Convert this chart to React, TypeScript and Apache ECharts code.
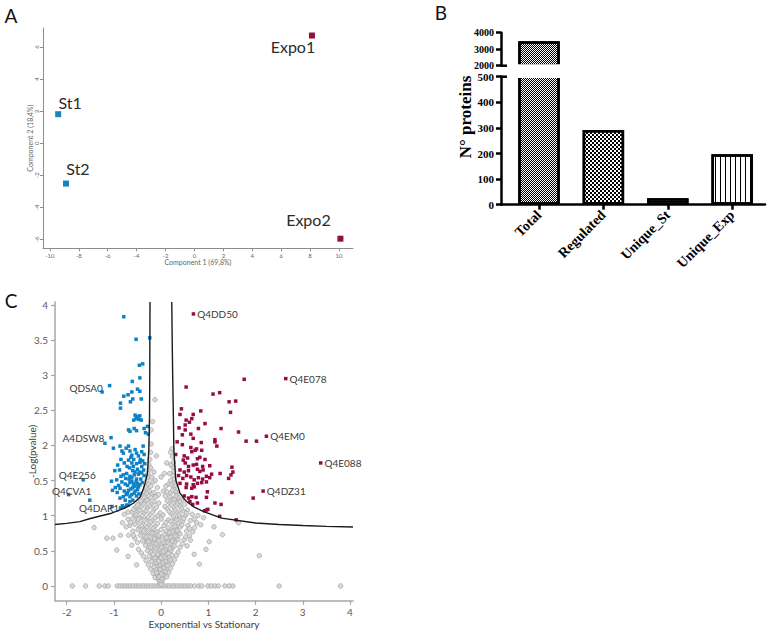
import React, { useEffect, useRef } from 'react';
import * as echarts from 'echarts';

// ---------------- Panel A: PCA ----------------
const pcaNames = ['St1', 'St2', 'Expo1', 'Expo2'];
const pcaX = [-9.43, -8.89, 8.13, 10.1];
const pcaY = [1.81, -2.52, 6.72, -5.96];
const pcaGroup = ['st', 'st', 'exp', 'exp'];
const pcaTicksX = [-10, -8, -6, -4, -2, 0, 2, 4, 6, 8, 10];
const pcaTicksY = [-6, -4, -2, 0, 2, 4, 6];

// ---------------- Panel B: counts ----------------
const barCategories = ['Total', 'Regulated', 'Unique_St', 'Unique_Exp'];
const barCounts = [3480, 292, 25, 197];
const barPositions = [0, 1, 2, 3];

// ---------------- Panel C: volcano ----------------
const volTicksX = [-2, -1, 0, 1, 2, 3, 4];
const volTicksY = [0, 0.5, 1, 1.5, 2, 2.5, 3, 3.5, 4];
const volTickLabelsY = ['0', '0.5', '1', '0.5', '2', '2.5', '3', '3.5', '4'];

const curveLeft = [
  [-0.235, 4.04], [-0.24, 3.0], [-0.245, 2.41], [-0.26, 1.94], [-0.29, 1.6], [-0.36, 1.41],
  [-0.44, 1.27], [-0.58, 1.18], [-0.76, 1.11], [-1.05, 1.035], [-1.5, 0.96], [-1.72, 0.915],
  [-2.0, 0.89], [-2.247, 0.875],
];
const curveRight = [
  [0.226, 4.04], [0.235, 3.5], [0.245, 3.0], [0.26, 2.4], [0.27, 1.94], [0.31, 1.51], [0.4, 1.32],
  [0.51, 1.22], [0.68, 1.13], [0.89, 1.06], [1.28, 0.965], [2.0, 0.895], [2.5, 0.875], [3.0, 0.86],
  [3.5, 0.848], [4.064, 0.838],
];

const bluePoints = [
  [-0.79, 3.83], [-0.53, 3.51], [-0.24, 3.53], [-0.39, 3.16], [-0.46, 3.14], [-0.61, 2.91], [-0.45, 2.96],
  [-0.5, 2.8], [-0.45, 2.77], [-0.62, 2.76], [-1.25, 2.76], [-0.79, 2.7], [-0.86, 2.6], [-0.86, 2.53],
  [-0.6, 2.66], [-0.65, 2.62], [-0.7, 2.72], [-0.42, 2.66],
  [-0.55, 2.43], [-0.5, 2.41], [-0.45, 2.42], [-0.53, 2.38], [-0.58, 2.36], [-0.47, 2.37], [-0.42, 2.36],
  [-0.57, 2.24], [-0.52, 2.21], [-0.69, 2.22], [-0.66, 2.2], [-0.36, 2.24], [-0.33, 2.18], [-0.29, 2.27],
  [-0.27, 2.16],
  [-1.19, 2.03], [-1.01, 1.96], [-0.87, 1.99], [-0.83, 1.92], [-0.8, 1.89], [-0.74, 1.96], [-0.69, 1.99],
  [-0.66, 1.92], [-0.62, 1.86], [-0.55, 1.94], [-0.52, 1.89], [-0.48, 1.85], [-0.41, 1.91], [-0.38, 1.99],
  [-0.36, 1.87],
  [-0.69, 1.79], [-0.62, 1.75], [-0.59, 1.7], [-0.52, 1.74], [-0.45, 1.76], [-0.41, 1.7], [-0.37, 1.65],
  [-0.98, 1.64], [-0.88, 1.65], [-0.8, 1.58], [-0.73, 1.6], [-0.66, 1.56], [-0.62, 1.54], [-0.57, 1.58],
  [-0.52, 1.52], [-0.48, 1.59], [-0.41, 1.61], [-0.36, 1.57],
  [-1.05, 1.49], [-0.94, 1.51], [-0.83, 1.48], [-0.76, 1.45], [-0.71, 1.43], [-0.66, 1.47], [-0.6, 1.4],
  [-0.55, 1.42], [-0.5, 1.37], [-0.45, 1.44], [-0.4, 1.47],
  [-1.03, 1.36], [-0.93, 1.33], [-0.87, 1.39], [-0.78, 1.35], [-0.71, 1.32], [-0.66, 1.27], [-0.62, 1.3],
  [-0.57, 1.32], [-0.52, 1.28], [-0.47, 1.31],
  [-0.87, 1.25], [-0.76, 1.22], [-0.66, 1.2], [-0.6, 1.22], [-0.82, 1.14], [-0.73, 1.15], [-0.7, 1.15],
  [-1.51, 1.22], [-0.8, 1.12], [-0.86, 1.11],
  [-0.64, 1.83], [-0.58, 1.8], [-0.5, 1.66], [-0.46, 1.62], [-0.43, 1.52], [-0.55, 1.62], [-0.6, 1.64],
  [-0.67, 1.68], [-0.72, 1.7], [-0.78, 1.75], [-0.85, 1.8], [-0.92, 1.72], [-0.44, 1.8], [-0.39, 1.78],
  [-0.35, 1.74], [-0.53, 1.48], [-0.58, 1.45], [-0.64, 1.38], [-0.69, 1.36], [-0.74, 1.3], [-0.8, 1.27],
  [-0.9, 1.43], [-0.97, 1.4], [-0.55, 1.35], [-0.5, 1.46], [-0.48, 1.41], [-0.62, 1.49], [-0.68, 1.52],
  [-0.75, 1.53], [-0.85, 1.56],
];

const redPoints = [
  [1.76, 2.94], [0.53, 2.83], [1.1, 2.73], [1.24, 2.75], [1.44, 2.62], [1.58, 2.63], [1.47, 2.47],
  [0.43, 2.52], [0.4, 2.44], [0.68, 2.44], [0.84, 2.49], [0.53, 2.36], [0.6, 2.33], [0.51, 2.29],
  [0.65, 2.38], [0.93, 2.31], [0.38, 2.25], [0.79, 2.24], [1.27, 2.24], [1.64, 2.19], [0.51, 2.22],
  [0.63, 2.16], [0.45, 2.15], [0.68, 2.1], [1.14, 2.08], [1.14, 2.05], [1.18, 1.99], [1.8, 2.06],
  [2.02, 2.06], [0.34, 2.05], [0.45, 2.01], [0.85, 2.04], [0.63, 1.97], [0.72, 1.93], [0.75, 1.95],
  [0.65, 1.91], [0.31, 1.87], [0.86, 1.93],
  [0.49, 1.85], [0.56, 1.82], [0.77, 1.81], [0.82, 1.83], [0.93, 1.8],
  [0.47, 1.79], [0.51, 1.75], [0.58, 1.7], [0.68, 1.72], [0.75, 1.73], [0.88, 1.7], [1.03, 1.71],
  [0.4, 1.65], [0.49, 1.62], [0.58, 1.64], [0.77, 1.66], [0.82, 1.63], [0.89, 1.65],
  [1.5, 1.69], [1.52, 1.62], [1.48, 1.58], [1.25, 1.6], [1.07, 1.59], [1.03, 1.54], [0.96, 1.56],
  [0.37, 1.57], [0.46, 1.53], [0.54, 1.57], [0.63, 1.55], [0.7, 1.51], [0.79, 1.54], [0.88, 1.52],
  [1.43, 1.53],
  [0.4, 1.46], [0.54, 1.45], [0.68, 1.44], [0.77, 1.46], [0.86, 1.47], [0.96, 1.48],
  [0.53, 1.4], [0.65, 1.39], [0.7, 1.41], [1.5, 1.33], [0.98, 1.34], [0.96, 1.26], [1.95, 1.25],
  [0.49, 1.28], [0.58, 1.25], [0.65, 1.27], [0.74, 1.26],
  [0.61, 1.2], [0.67, 1.16], [0.77, 1.18], [1.14, 1.18], [1.27, 1.16],
  [0.92, 1.07], [0.96, 1.08], [0.99, 1.09], [1.24, 0.99], [1.59, 0.94],
];

const grayPoints = [
  [-1.88, 0], [-1.6, 0], [-1.31, 0], [-1.19, 0], [-1.12, 0], [-0.93, 0], [-0.87, 0], [-0.81, 0], [-0.76, 0],
  [-0.7, 0], [-0.65, 0], [-0.59, 0], [-0.53, 0], [-0.48, 0], [-0.42, 0], [-0.37, 0], [-0.31, 0], [-0.26, 0],
  [-0.2, 0], [-0.15, 0], [-0.09, 0], [-0.04, 0], [0.02, 0], [0.07, 0], [0.13, 0], [0.18, 0], [0.24, 0],
  [0.29, 0], [0.35, 0], [0.4, 0], [0.46, 0], [0.51, 0], [0.57, 0], [0.63, 0], [0.71, 0], [0.8, 0], [0.86, 0],
  [0.99, 0], [1.06, 0], [1.14, 0], [1.21, 0], [1.35, 0], [1.44, 0], [1.52, 0], [2.5, 0], [3.8, 0],
  [-0.03, 0.04], [0.02, 0.06], [-0.06, 0.09], [0.05, 0.11], [0.0, 0.14], [-0.08, 0.16], [0.08, 0.18],
  [-0.03, 0.2], [0.04, 0.22], [-0.11, 0.23], [0.11, 0.25], [0.01, 0.27], [-0.06, 0.29], [0.07, 0.31],
  [-0.14, 0.32], [0.14, 0.34], [-0.01, 0.36], [0.04, 0.38], [-0.18, 0.39], [0.17, 0.41], [-0.09, 0.42],
  [0.1, 0.44], [-0.04, 0.46], [0.02, 0.47], [-0.22, 0.48], [0.21, 0.5], [-0.14, 0.51], [0.13, 0.52],
  [-0.26, 0.54], [0.25, 0.55], [-0.07, 0.56], [0.06, 0.57], [-0.19, 0.58], [0.17, 0.6], [-0.31, 0.61],
  [0.29, 0.62], [-0.11, 0.63], [0.09, 0.64], [-0.24, 0.65], [0.22, 0.66], [-0.36, 0.67], [0.33, 0.68],
  [-0.03, 0.69], [0.03, 0.7], [-0.16, 0.71], [0.15, 0.72], [-0.29, 0.73], [0.27, 0.74], [-0.41, 0.75],
  [0.37, 0.76], [-0.09, 0.77], [0.11, 0.78], [-0.21, 0.79], [0.2, 0.8], [-0.34, 0.81], [0.31, 0.82],
  [-0.46, 0.83], [0.41, 0.84], [-0.13, 0.85], [0.06, 0.86], [-0.26, 0.87], [0.25, 0.88], [-0.39, 0.89],
  [0.36, 0.9], [-0.51, 0.91], [0.46, 0.92], [-0.18, 0.93], [0.15, 0.94], [-0.31, 0.95], [0.29, 0.96],
  [-0.44, 0.97], [0.4, 0.98], [-0.56, 0.99], [0.51, 1.0], [-0.07, 1.0], [0.04, 1.01], [-0.23, 1.02],
  [0.21, 1.03], [-0.36, 1.04], [0.33, 1.05], [-0.49, 1.06], [0.45, 1.07], [-0.62, 1.05], [0.56, 1.08],
  [-0.15, 1.09], [0.13, 1.1], [-0.29, 1.11], [0.27, 1.12], [-0.42, 1.13], [0.39, 1.14], [-0.54, 1.12],
  [0.5, 1.16], [-0.2, 1.17], [0.18, 1.18], [-0.34, 1.19], [0.31, 1.2], [-0.47, 1.2], [0.43, 1.22],
  [-0.27, 1.23], [0.24, 1.24], [-0.39, 1.25], [0.36, 1.26], [-0.11, 1.27], [0.09, 1.28],
  [-0.33, 1.3], [0.33, 1.31], [-0.37, 1.33], [0.3, 1.35], [-0.29, 1.37], [0.27, 1.39], [-0.33, 1.41],
  [0.29, 1.43], [-0.27, 1.45], [0.26, 1.47], [-0.3, 1.5], [0.28, 1.52], [-0.26, 1.55], [0.25, 1.57],
  [-0.28, 1.6], [0.27, 1.63], [-0.25, 1.66], [0.25, 1.69], [-0.26, 1.73], [0.26, 1.76], [-0.24, 1.8],
  [0.24, 1.84], [-0.22, 1.9], [0.23, 1.95], [-0.21, 2.02], [0.12, 1.75], [-0.21, 2.22], [-0.18, 2.34],
  [-0.13, 2.65], [0.05, 1.35], [-0.08, 1.4], [0.16, 1.45], [-0.17, 1.48], [0.18, 1.6], [-0.15, 1.62],
  [0.0, 1.55], [-0.2, 1.3], [0.2, 1.32],
  [-0.7, 0.95], [-0.66, 0.86], [-0.6, 0.78], [-0.69, 0.72], [-0.56, 0.68], [-0.5, 0.62], [-0.62, 0.58],
  [-0.48, 0.52], [-0.42, 0.47], [-0.37, 0.42], [-0.32, 0.36], [-0.27, 0.3], [-0.22, 0.24], [-0.17, 0.18],
  [-0.13, 0.12],
  [0.66, 1.02], [0.62, 0.93], [0.57, 0.86], [0.54, 0.78], [0.6, 0.71], [0.49, 0.66], [0.45, 0.6],
  [0.4, 0.55], [0.36, 0.48], [0.32, 0.43], [0.28, 0.37], [0.24, 0.31], [0.2, 0.25], [0.16, 0.19],
  [0.12, 0.13],
  [0.78, 1.0], [0.9, 0.97], [0.75, 0.9], [0.71, 0.83], [0.67, 0.77], [0.84, 0.87], [0.62, 0.65],
  [0.55, 0.57], [-0.78, 1.02], [-0.74, 0.84], [-0.82, 0.9],
  [-1.42, 0.83], [-1.15, 0.68], [-1.02, 0.68], [-0.94, 0.51], [0.81, 0.31], [2.08, 0.43], [1.3, 0.73],
  [1.64, 0.9], [1.02, 0.63], [-0.86, 0.72], [1.12, 0.84], [-0.7, 0.42], [0.7, 0.45], [-0.52, 0.3],
  [0.95, 0.52],
  [-0.05, 0.12], [0.03, 0.15], [-0.1, 0.19], [0.09, 0.21], [-0.02, 0.24], [0.06, 0.26], [-0.15, 0.27],
  [0.13, 0.29], [-0.09, 0.33], [0.1, 0.35], [-0.2, 0.35], [0.19, 0.37], [-0.05, 0.38], [-0.13, 0.4],
  [0.07, 0.41], [-0.25, 0.42], [0.23, 0.44], [-0.17, 0.45], [0.15, 0.46], [-0.01, 0.49], [-0.29, 0.5],
  [0.09, 0.51], [-0.1, 0.53], [0.19, 0.53], [-0.22, 0.55], [0.28, 0.57], [-0.33, 0.58], [0.02, 0.59],
  [-0.15, 0.61], [0.13, 0.62], [-0.27, 0.63], [0.24, 0.64], [-0.39, 0.64], [0.36, 0.66], [-0.07, 0.66],
  [-0.2, 0.68], [0.19, 0.69], [-0.32, 0.7], [0.3, 0.71], [-0.44, 0.72], [0.07, 0.73], [-0.12, 0.74],
  [0.4, 0.74], [-0.25, 0.76], [0.24, 0.77], [-0.37, 0.78], [0.34, 0.79], [-0.49, 0.8], [0.0, 0.8],
  [-0.17, 0.82], [0.16, 0.83], [-0.3, 0.84], [0.29, 0.85], [-0.42, 0.86], [0.44, 0.87], [-0.55, 0.88],
  [-0.08, 0.89], [0.1, 0.9], [-0.22, 0.91], [0.21, 0.92], [-0.35, 0.93], [0.33, 0.94], [-0.48, 0.95],
  [0.48, 0.96], [-0.6, 0.96], [-0.13, 0.97], [0.0, 0.95], [-0.27, 0.98], [0.26, 0.99], [-0.4, 1.0],
  [0.38, 1.01], [-0.53, 1.01], [0.54, 1.03], [-0.02, 1.04], [-0.18, 1.05], [0.17, 1.06], [-0.32, 1.07],
  [0.3, 1.08], [-0.45, 1.08], [0.43, 1.1], [-0.58, 1.09], [-0.1, 1.12], [0.08, 1.13], [-0.24, 1.14],
  [0.22, 1.15], [-0.37, 1.16], [0.35, 1.17], [-0.5, 1.15], [-0.05, 1.18], [-0.15, 1.2], [0.13, 1.21],
  [-0.3, 1.22], [0.28, 1.23], [-0.43, 1.21], [0.4, 1.2], [-0.22, 1.26], [0.19, 1.27], [-0.35, 1.27],
  [0.32, 1.28], [-0.05, 1.3], [-0.15, 1.33], [0.12, 1.34], [-0.25, 1.35], [0.24, 1.36], [-0.31, 1.32],
  [0.1, 1.42], [-0.22, 1.42], [0.22, 1.44], [-0.12, 1.5], [0.2, 1.5], [-0.2, 1.55], [0.07, 1.6],
  [-0.22, 1.68], [0.21, 1.72], [-0.1, 1.85], [0.2, 1.9], [-0.7, 1.05], [-0.65, 0.9], [0.7, 0.95],
  [0.6, 0.82], [-0.58, 0.72], [0.52, 0.7],
  [0.0, 0.02], [-0.01, 0.08], [0.02, 0.1], [-0.04, 0.13], [0.01, 0.17], [-0.02, 0.3], [0.03, 0.33],
  [-0.05, 0.35], [0.0, 0.4], [-0.07, 0.45], [0.05, 0.49], [-0.03, 0.52], [0.01, 0.55], [-0.1, 0.6],
  [0.06, 0.62], [-0.05, 0.64], [-0.14, 0.67], [0.12, 0.69], [-0.06, 0.72], [-0.19, 0.75], [0.17, 0.76],
];

const annotNames = ['Q4DD50', 'Q4E078', 'Q4EM0', 'Q4E088', 'Q4DZ31', 'QDSA0', 'A4DSW8', 'Q4E256', 'Q4CVA1', 'Q4DAR1'];
const annotPoints = [
  [0.685, 3.87], [2.64, 2.95], [2.23, 2.13], [3.38, 1.75], [2.16, 1.35],
  [-1.09, 2.85], [-1.06, 2.11], [-1.65, 1.51], [-1.96, 1.3], [-1.04, 1.13],
];
const annotGroup = ['up', 'up', 'up', 'up', 'up', 'down', 'down', 'down', 'down', 'down'];

// ---------------- styles ----------------
const SANS = 'Lato, "Noto Sans", sans-serif';
const SERIF = '"Liberation Serif", "Times New Roman", serif';
const BLUE = '#0f82c5';
const RED = '#970d43';
const PCA_BLUE = '#1884c2';
const PCA_RED = '#93103e';

const pcaLabelOffset: Record<string, number[]> = {
  St1: [12, -12],
  St2: [12, -15],
  Expo1: [-19, 11],
  Expo2: [-32, -19],
};

const annotLabel: Record<string, any> = {
  Q4DD50: { position: 'right', distance: 2 },
  Q4E078: { position: 'right', distance: 2 },
  Q4EM0: { position: 'right', distance: 2 },
  Q4E088: { position: 'right', distance: 2 },
  Q4DZ31: { position: 'right', distance: 2 },
  QDSA0: { position: 'left', distance: 5, offset: [0, 2] },
  A4DSW8: { position: 'left', distance: 5 },
  Q4E256: { position: 'inside', offset: [-6, -5] },
  Q4CVA1: { position: 'inside', offset: [3, -4] },
  Q4DAR1: { position: 'inside', offset: [-13, 1] },
};

const decalBase = { symbolSize: 1, symbolKeepAspect: false, color: '#000', backgroundColor: '#fff', rotation: 0 };
const decals: any[] = [
  { ...decalBase, symbol: [['rect', 'rect'], ['rect', 'rect']], dashArrayX: [[1, 1], [0, 1, 1, 0]], dashArrayY: [1, 0] },
  { ...decalBase, symbol: 'rect', dashArrayX: [[2, 2], [0, 2, 2, 0]], dashArrayY: [2, 0] },
  { ...decalBase, symbol: 'rect', dashArrayX: [4, 0], dashArrayY: [1, 2] },
  { ...decalBase, symbol: 'rect', dashArrayX: [1, 4], dashArrayY: [4, 0] },
];

const gA = { left: 43, top: 28, width: 310, height: 220.3 };
const gBHigh = { left: 501, top: 32.7, width: 264, height: 33 };
const gBLow = { left: 501, top: 76.7, width: 264, height: 128 };
const gC = { left: 55, top: 302, width: 298, height: 298.7 };

function letter(text: string, x: number, y: number) {
  return {
    type: 'text', x, y, z: 50,
    style: {
      text, fill: '#111', fontSize: 19, fontFamily: SANS,
      align: 'center', verticalAlign: 'middle', textAlign: 'center', textVerticalAlign: 'middle',
    },
  };
}

export default function App() {
  const ref = useRef<HTMLDivElement>(null);

  useEffect(() => {
    const chart = echarts.init(ref.current!, null, { renderer: 'svg' });

    const grayAxis = '#8c8c8c';
    const volAxis = '#a6a6a6';

    const option: any = {
      animation: false,
      backgroundColor: '#fff',
      grid: [
        { ...gA, outerBoundsMode: 'none' },
        { ...gBHigh, outerBoundsMode: 'none' },
        { ...gBLow, outerBoundsMode: 'none' },
        { ...gC, outerBoundsMode: 'none' },
      ],
      xAxis: [
        {
          type: 'value', gridIndex: 0, min: -10.48, max: 10.97,
          axisLine: { onZero: false, lineStyle: { color: grayAxis, width: 1 } },
          axisTick: { show: true, customValues: pcaTicksX, length: 3, lineStyle: { color: grayAxis } },
          axisLabel: { customValues: pcaTicksX, fontSize: 6, color: '#666', margin: 4, fontFamily: SANS },
          splitLine: { show: false },
          name: 'Component 1 (69,8%)', nameLocation: 'middle', nameGap: 10, nameMoveOverlap: false,
          nameTextStyle: { fontSize: 7, color: '#666', fontFamily: SANS },
        },
        { type: 'value', gridIndex: 1, min: -0.59, max: 3.51, show: false },
        {
          type: 'value', gridIndex: 2, min: -0.59, max: 3.51,
          axisLine: { onZero: false, lineStyle: { color: '#000', width: 2.5 } },
          axisTick: { show: true, customValues: barPositions, length: 5, lineStyle: { color: '#000', width: 2.5 } },
          axisLabel: {
            customValues: barPositions, rotate: 45, margin: 8, color: '#000',
            fontFamily: SERIF, fontWeight: 'bold', fontSize: 14,
            formatter: (v: number) => barCategories[Math.round(v)] ?? '',
          },
          splitLine: { show: false },
        },
        {
          type: 'value', gridIndex: 3, min: -2.247, max: 4.064,
          axisLine: { onZero: false, lineStyle: { color: volAxis, width: 1.5 } },
          axisTick: { show: true, customValues: volTicksX, length: 4, lineStyle: { color: volAxis, width: 1.2 } },
          axisLabel: { customValues: volTicksX, fontSize: 10, color: '#595959', margin: 6, fontFamily: SANS },
          splitLine: { show: false },
          name: 'Exponential vs Stationary', nameLocation: 'middle', nameGap: 18, nameMoveOverlap: false,
          nameTextStyle: { fontSize: 10, color: '#404040', fontFamily: SANS },
        },
      ],
      yAxis: [
        {
          type: 'value', gridIndex: 0, min: -6.56, max: 7.19,
          axisLine: { show: true, onZero: false, lineStyle: { color: grayAxis, width: 1 } },
          axisTick: { show: true, customValues: pcaTicksY, length: 3, lineStyle: { color: grayAxis } },
          axisLabel: { customValues: pcaTicksY, fontSize: 6, color: '#666', margin: 4, rotate: 90, fontFamily: SANS },
          splitLine: { show: false },
          name: 'Component 2 (18,4%)', nameLocation: 'middle', nameGap: 10, nameMoveOverlap: false,
          nameTextStyle: { fontSize: 7, color: '#666', fontFamily: SANS },
        },
        {
          type: 'value', gridIndex: 1, min: 2000, max: 4000, interval: 1000,
          axisLine: { show: true, onZero: false, lineStyle: { color: '#000', width: 2.5 } },
          axisTick: { show: true, length: 5, lineStyle: { color: '#000', width: 2.5 } },
          axisLabel: {
            fontSize: 10, color: '#000', fontWeight: 'bold', fontFamily: SERIF, margin: 7,
            formatter: (v: number) => String(v),
          },
          splitLine: { show: false },
        },
        {
          type: 'value', gridIndex: 2, min: 0, max: 500, interval: 100,
          axisLine: { show: true, onZero: false, lineStyle: { color: '#000', width: 2.5 } },
          axisTick: { show: true, length: 5, lineStyle: { color: '#000', width: 2.5 } },
          axisLabel: {
            fontSize: 11, color: '#000', fontWeight: 'bold', fontFamily: SERIF, margin: 7,
            formatter: (v: number) => String(v),
          },
          splitLine: { show: false },
        },
        {
          type: 'value', gridIndex: 3, min: -0.21, max: 4.04,
          axisLine: { show: true, onZero: false, lineStyle: { color: volAxis, width: 1.5 } },
          axisTick: { show: true, customValues: volTicksY, length: 4, lineStyle: { color: volAxis, width: 1.2 } },
          axisLabel: {
            customValues: volTicksY, fontSize: 10, color: '#595959', margin: 7, fontFamily: SANS,
            formatter: (v: number) => {
              const i = volTicksY.findIndex((t) => Math.abs(t - v) < 1e-6);
              return i >= 0 ? volTickLabelsY[i] : '';
            },
          },
          splitLine: { show: false },
          name: '-Log(pvalue)', nameLocation: 'middle', nameGap: 18, nameMoveOverlap: false,
          nameTextStyle: { fontSize: 10, color: '#404040', fontFamily: SANS },
        },
      ],
      series: [
        {
          type: 'scatter', xAxisIndex: 0, yAxisIndex: 0, symbol: 'rect', symbolSize: 6,
          data: pcaNames.map((n, i) => ({
            name: n,
            value: [pcaX[i], pcaY[i]],
            itemStyle: { color: pcaGroup[i] === 'st' ? PCA_BLUE : PCA_RED, opacity: 1 },
            label: {
              show: true, position: 'inside', offset: pcaLabelOffset[n], formatter: '{b}',
              fontSize: 16, color: '#2b2b2b', fontFamily: SANS,
            },
          })),
        },
        {
          type: 'bar', xAxisIndex: 1, yAxisIndex: 1, barWidth: 41.5, clip: true,
          itemStyle: { color: '#fff', borderColor: '#000', borderWidth: 2.5 },
          data: [{ value: [barPositions[0], barCounts[0]], itemStyle: { decal: decals[0] } }],
        },
        {
          type: 'bar', xAxisIndex: 2, yAxisIndex: 2, barWidth: 41.5, clip: true,
          itemStyle: { color: '#fff', borderColor: '#000', borderWidth: 2.5 },
          data: barCounts.map((v, i) => ({ value: [barPositions[i], v], itemStyle: { decal: decals[i] } })),
        },
        {
          type: 'scatter', xAxisIndex: 3, yAxisIndex: 3, symbol: 'circle', symbolSize: 4.5, z: 2,
          itemStyle: { color: 'rgba(212,212,212,0.85)', borderColor: '#a8a8a8', borderWidth: 0.8, opacity: 1 },
          data: grayPoints,
        },
        {
          type: 'scatter', xAxisIndex: 3, yAxisIndex: 3, symbol: 'rect', symbolSize: 3.5, z: 3,
          itemStyle: { color: BLUE, opacity: 1 },
          data: bluePoints,
        },
        {
          type: 'scatter', xAxisIndex: 3, yAxisIndex: 3, symbol: 'rect', symbolSize: 3.5, z: 3,
          itemStyle: { color: RED, opacity: 1 },
          data: redPoints,
        },
        {
          type: 'line', xAxisIndex: 3, yAxisIndex: 3, showSymbol: false, z: 4, clip: true,
          lineStyle: { color: '#1a1a1a', width: 1.4 },
          data: curveLeft,
        },
        {
          type: 'line', xAxisIndex: 3, yAxisIndex: 3, showSymbol: false, z: 4, clip: true,
          lineStyle: { color: '#1a1a1a', width: 1.4 },
          data: curveRight,
        },
        {
          type: 'scatter', xAxisIndex: 3, yAxisIndex: 3, symbol: 'rect', symbolSize: 3.5, z: 5,
          data: annotNames.map((n, i) => ({
            name: n,
            value: annotPoints[i],
            itemStyle: { color: annotGroup[i] === 'up' ? RED : BLUE, opacity: 1 },
            label: {
              show: true, formatter: '{b}', fontSize: 10, color: '#3a3a3a', fontFamily: SANS,
              ...annotLabel[n],
            },
          })),
        },
      ],
      graphic: [
        letter('A', 11, 15),
        letter('B', 441, 12),
        letter('C', 11, 300),
        {
          type: 'text', x: 465, y: 117, rotation: Math.PI / 2, z: 50,
          style: {
            text: 'N° proteins', fill: '#000', fontSize: 17, fontWeight: 'bold', fontFamily: SERIF,
            align: 'center', verticalAlign: 'middle', textAlign: 'center', textVerticalAlign: 'middle',
          },
        },
        {
          type: 'rect', z: 100,
          shape: { x: 512, y: gBHigh.top + gBHigh.height - 1.4, width: 54, height: gBLow.top - gBHigh.top - gBHigh.height + 2.8 },
          style: { fill: '#fff' },
        },
        {
          type: 'line', z: 101,
          shape: { x1: gBHigh.left - 1, y1: gBHigh.top + gBHigh.height, x2: gBHigh.left + 6, y2: gBHigh.top + gBHigh.height },
          style: { stroke: '#000', lineWidth: 2.5 },
        },
        {
          type: 'line', z: 101,
          shape: { x1: gBLow.left - 1, y1: gBLow.top, x2: gBLow.left + 6, y2: gBLow.top },
          style: { stroke: '#000', lineWidth: 2.5 },
        },
      ],
    };

    chart.setOption(option);
    return () => chart.dispose();
  }, []);

  return (
    <div
      ref={ref}
      style={{ position: 'absolute', left: 0, top: 0, width: 772, height: 632, background: '#fff' }}
    />
  );
}
